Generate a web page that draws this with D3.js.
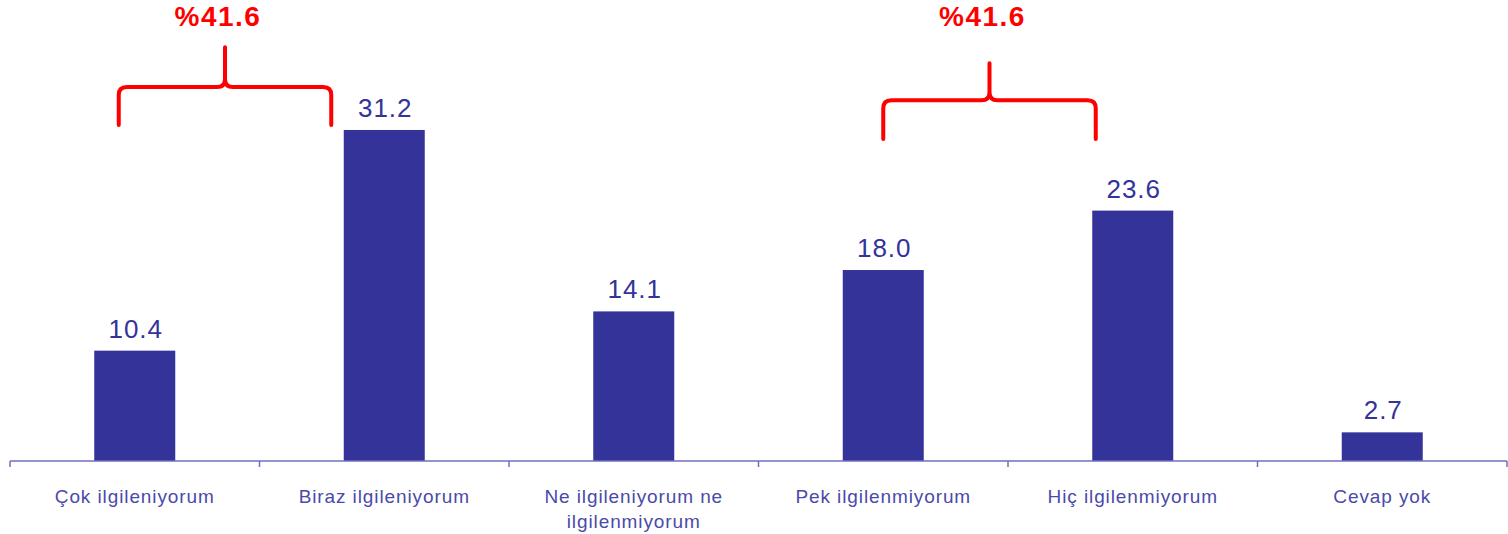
<!DOCTYPE html>
<html>
<head>
<meta charset="utf-8">
<script src="https://cdn.jsdelivr.net/npm/d3@7"></script>
<style>
  body { margin: 0; background: #fff; }
  svg { display: block; font-family: "Liberation Sans", Arial, sans-serif; }
</style>
</head>
<body>
<div id="chart"></div>
<script>
var categories = ["Çok ilgileniyorum", "Biraz ilgileniyorum", "Ne ilgileniyorum ne ilgilenmiyorum",
                  "Pek ilgilenmiyorum", "Hiç ilgilenmiyorum", "Cevap yok"];
var values = [10.4, 31.2, 14.1, 18.0, 23.6, 2.7];
var groupLabels = ["%41.6", "%41.6"];
var groupFrom = [0, 3];
var groupTo = [1, 4];

var width = 1508, height = 534;
var margin = {top: 0, right: 1, bottom: 73, left: 10};
var barColor = "#333399";
var axisColor = "#6f6fbf";

var svg = d3.select("#chart").append("svg")
    .attr("width", width)
    .attr("height", height);

var g = svg.append("g");

var x = d3.scaleBand()
    .domain(categories)
    .range([margin.left, width - margin.right])
    .paddingInner(0);

var y = d3.scaleLinear()
    .domain([0, 43.45])
    .range([height - margin.bottom, 0]);

// bars
g.selectAll("rect.bar")
  .data(values)
  .enter().append("rect")
    .attr("class", "bar")
    .attr("x", function(d, i) { return x(categories[i]) + x.bandwidth() / 2 - 40.5; })
    .attr("width", 81)
    .attr("y", function(d) { return y(d); })
    .attr("height", function(d) { return y(0) - y(d); })
    .attr("fill", barColor);

// value labels
g.selectAll("text.val")
  .data(values)
  .enter().append("text")
    .attr("class", "val")
    .attr("x", function(d, i) { return x(categories[i]) + x.bandwidth() / 2 + 1; })
    .attr("y", function(d) { return y(d) - 13; })
    .attr("text-anchor", "middle")
    .attr("font-size", 26)
    .attr("letter-spacing", 1)
    .attr("fill", barColor)
    .text(function(d) { return d.toFixed(1); });

// axis
var axis = g.append("g")
    .attr("transform", "translate(0," + y(0) + ")");
axis.append("line")
    .attr("x1", x.range()[0]).attr("x2", x.range()[1])
    .attr("stroke", axisColor).attr("stroke-width", 1.5);
var tickPos = categories.map(function(c) { return x(c); }).concat([x.range()[1]]);
axis.selectAll("line.tick")
  .data(tickPos)
  .enter().append("line")
    .attr("class", "tick")
    .attr("x1", function(d) { return d; }).attr("x2", function(d) { return d; })
    .attr("y1", 0).attr("y2", 6)
    .attr("stroke", axisColor).attr("stroke-width", 1.5);

// category labels (wrapped)
function wrapLines(s) {
  if (s.length < 22) return [s];
  var i = s.lastIndexOf(" ");
  return [s.slice(0, i), s.slice(i + 1)];
}
var lab = axis.selectAll("text.cat")
  .data(categories)
  .enter().append("text")
    .attr("class", "cat")
    .attr("text-anchor", "middle")
    .attr("font-size", 19)
    .attr("letter-spacing", 0.9)
    .attr("fill", "#4a4aa8")
    .attr("transform", function(d) { return "translate(" + (x(d) + x.bandwidth() / 2) + ",42)"; });
lab.each(function(d) {
  var t = d3.select(this);
  wrapLines(d).forEach(function(line, k) {
    t.append("tspan").attr("x", 0).attr("y", k * 25).text(line);
  });
});

// red brackets
var bracketTops = [[31.67, 35.25, 39.0], [30.35, 34.0, 37.5]];
var bracketText = [41.0, 41.0];
var leftShift = [-16, 0], rightShift = [-53, -37];
groupLabels.forEach(function(lbl, k) {
  var x0 = x(categories[groupFrom[k]]) + x.bandwidth() / 2 + leftShift[k];
  var x1 = x(categories[groupTo[k]]) + x.bandwidth() / 2 + rightShift[k];
  var xm = (x0 + x1) / 2;
  var yb = y(bracketTops[k][0]), yh = y(bracketTops[k][1]), yp = y(bracketTops[k][2]);
  var r = 8;
  var p = d3.path();
  p.moveTo(x0, yb);
  p.lineTo(x0, yh + r);
  p.quadraticCurveTo(x0, yh, x0 + r, yh);
  p.lineTo(xm - r, yh);
  p.quadraticCurveTo(xm, yh, xm, yh - r);
  p.lineTo(xm, yp);
  p.moveTo(xm, yh - r);
  p.quadraticCurveTo(xm, yh, xm + r, yh);
  p.lineTo(x1 - r, yh);
  p.quadraticCurveTo(x1, yh, x1, yh + r);
  p.lineTo(x1, yb);
  g.append("path")
    .attr("d", p.toString())
    .attr("fill", "none")
    .attr("stroke", "#ff0000")
    .attr("stroke-width", 4)
    .attr("stroke-linecap", "round")
    .attr("stroke-linejoin", "round");
  g.append("text")
    .attr("x", xm - 7)
    .attr("y", y(bracketText[k]))
    .attr("text-anchor", "middle")
    .attr("font-size", 28)
    .attr("letter-spacing", 1.5)
    .attr("font-weight", "bold")
    .attr("fill", "#ff0000")
    .text(lbl);
});
</script>
</body>
</html>
